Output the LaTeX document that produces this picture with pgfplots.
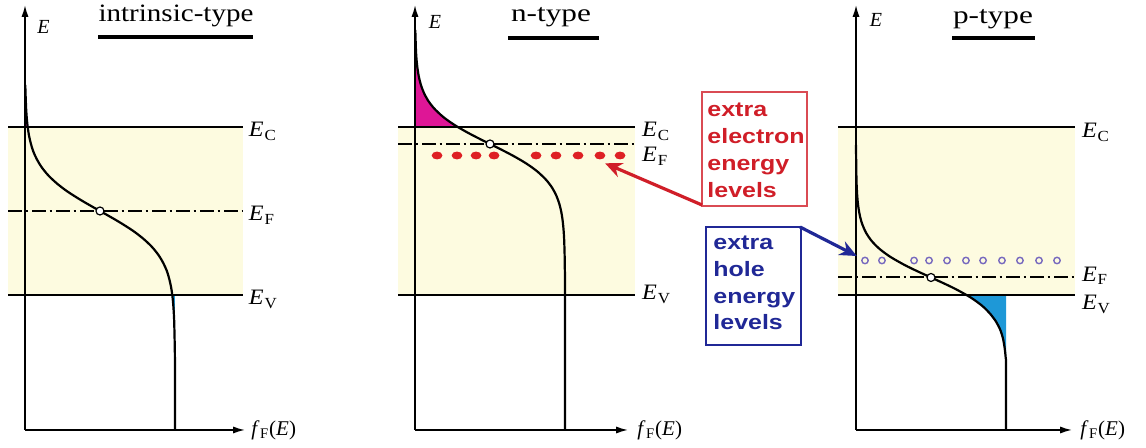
\documentclass[border=0pt]{standalone}
\usepackage{fontspec}
\setmainfont{Liberation Serif}
\newfontfamily\boxfont{Liberation Sans}
\usepackage{pgfplots}
\pgfplotsset{compat=1.18}
\usetikzlibrary{arrows.meta}

\definecolor{gapband}{RGB}{253,251,224}
\definecolor{elecfill}{RGB}{222,22,150}
\definecolor{holefill}{RGB}{30,152,215}
\definecolor{donor}{RGB}{222,32,36}
\definecolor{accept}{RGB}{118,104,190}
\definecolor{redtxt}{RGB}{208,30,40}
\definecolor{bluetxt}{RGB}{32,40,150}

% picture coordinates: 1 unit = 0.5pt, y measured from the top
\newcommand\pxy[2]{({(#1)*0.5pt},{(448-(#2))*0.5pt})}
\newcommand\lv[1]{\textit{E}\kern0.4pt\textsubscript{#1}}
\newcommand\fF{\textit{f}\kern0.2pt\textsubscript{F}(\textit{E})}

\pgfplotsset{
  fdaxis/.style={
    scale only axis, clip=false, axis on top,
    axis lines=left,
    axis line style={line width=0.8pt},
    x axis line style={-{Latex[length=6pt,width=3.6pt]}},
    y axis line style={-{Latex[length=6pt,width=3.6pt]}},
    xtick=\empty, ytick=\empty,
    xmin=0, ymin=0, ymax=425, height=212.5pt,
    anchor=south west,
  },
  level/.style={black, line width=1pt, no marks},
  fermi/.style={black, line width=1pt, no marks,
    dash pattern=on 7pt off 1.8pt on 1.4pt off 1.8pt},
  fdcurve/.style={black, line width=1.1pt, no marks, smooth},
  gap/.style={draw=none, fill=gapband, no marks},
  efill/.style={draw=none, fill=elecfill, no marks, smooth},
  hfill/.style={draw=none, fill=holefill, no marks, smooth},
  crossing/.style={only marks, mark=*, mark size=2pt,
    mark options={fill=white, draw=black, line width=0.6pt}},
}
\tikzset{
  lvlabel/.style={anchor=base west, inner sep=0pt, xscale=1.1,
    font=\fontsize{11}{13}\selectfont},
  elabel/.style={inner sep=0pt, font=\fontsize{10}{12}\selectfont\itshape},
  flabel/.style={anchor=west, inner sep=0pt, font=\fontsize{10.5}{12}\selectfont},
}

\begin{document}
\begin{tikzpicture}
\useasboundingbox (0,0) rectangle (573pt,224pt);

% ---------------- intrinsic ----------------
\begin{axis}[fdaxis, at={(12.5pt,9pt)}, xmax=1.467, width=110pt]
  \addplot[gap] coordinates {(-0.113,135) (1.453,135) (1.453,303) (-0.113,303)};
  \addplot[efill] coordinates {(0.004,335) (0.008,320) (0.013,310) (0.018,303)}
    -- (axis cs:0,303) -- (axis cs:0,335) -- cycle;
  \addplot[hfill] coordinates {(0.982,135) (0.987,128) (0.991,120) (0.9945,110) (0.997,95)}
    -- (axis cs:1,95) -- (axis cs:1,135) -- cycle;
  \addplot[level] coordinates {(-0.113,303) (1.453,303)};
  \addplot[level] coordinates {(-0.113,135) (1.453,135)};
  \addplot[fermi] coordinates {(-0.113,219) (1.453,219)};
  \addplot[fdcurve] coordinates {
    (0.002,345) (0.004,335) (0.008,320) (0.013,310) (0.018,303)
    (0.026,295) (0.038,287) (0.054,279) (0.078,271) (0.110,263)
    (0.153,255) (0.209,247) (0.278,239) (0.361,231) (0.429,225)
    (0.500,219) (0.571,213) (0.639,207) (0.722,199) (0.791,191)
    (0.847,183) (0.890,175) (0.922,167) (0.946,159) (0.962,151)
    (0.974,143) (0.982,135) (0.987,128) (0.991,120) (0.9945,110)
    (0.997,95) (0.999,80) (1.000,60) (1.000,0)};
  \addplot[crossing] coordinates {(0.5,219)};
  \node[lvlabel, xshift=2.5pt, yshift=-5pt] at (axis cs:1.453,303) {\lv{C}};
  \node[lvlabel, xshift=2.5pt, yshift=-5pt] at (axis cs:1.453,219) {\lv{F}};
  \node[lvlabel, xshift=2.5pt, yshift=-5pt] at (axis cs:1.453,135) {\lv{V}};
  \node[elabel] at (axis cs:0.123,403) {E};
  \node[flabel, xshift=3pt] at (axis cs:1.467,0) {\fF};
\end{axis}

% ---------------- n-type ----------------
\begin{axis}[fdaxis, at={(207.5pt,9pt)}, xmax=1.42, width=106.5pt]
  \addplot[gap] coordinates {(-0.113,135) (1.467,135) (1.467,303) (-0.113,303)};
  \addplot[efill] coordinates {(0.0105,370) (0.0162,362) (0.0247,354) (0.0376,346)
    (0.0568,338) (0.0848,330) (0.125,322) (0.1805,314) (0.2334,308) (0.2851,303)}
    -- (axis cs:0,303) -- (axis cs:0,370) -- cycle;
  \addplot[level] coordinates {(-0.113,303) (1.467,303)};
  \addplot[level] coordinates {(-0.113,135) (1.467,135)};
  \addplot[fermi] coordinates {(-0.113,286) (1.467,286)};
  \addplot[fdcurve] coordinates {
    (0.002,400) (0.0045,388) (0.0069,378) (0.0105,370) (0.0162,362)
    (0.0247,354) (0.0376,346) (0.0568,338) (0.0848,330) (0.125,322)
    (0.1805,314) (0.2334,308) (0.2851,303) (0.3556,297) (0.4329,291)
    (0.500,286) (0.5671,281) (0.6444,275) (0.7149,269) (0.7666,264)
    (0.8195,258) (0.875,250) (0.9152,242) (0.9432,234) (0.9624,226)
    (0.9753,218) (0.9838,210) (0.9905,200) (0.9945,190) (0.9975,175)
    (0.999,160) (1.000,140) (1.000,0)};
  \addplot[only marks, mark=*, color=donor, mark size=1.75pt,
    mark options={xscale=1.4}] coordinates {
    (0.147,274.5) (0.280,274.5) (0.407,274.5) (0.527,274.5) (0.807,274.5)
    (0.940,274.5) (1.087,274.5) (1.233,274.5) (1.367,274.5)};
  \addplot[crossing] coordinates {(0.5,286)};
  \coordinate (redtip) at (axis cs:1.267,266.7);
  \node[lvlabel, xshift=3pt, yshift=-5pt] at (axis cs:1.467,303) {\lv{C}};
  \node[lvlabel, xshift=3pt, yshift=-9pt] at (axis cs:1.467,286) {\lv{F}};
  \node[lvlabel, xshift=3pt, yshift=-2.5pt] at (axis cs:1.467,135) {\lv{V}};
  \node[elabel] at (axis cs:0.133,408) {E};
  \node[flabel, xshift=4.5pt] at (axis cs:1.42,0) {\fF};
\end{axis}

% ---------------- p-type ----------------
\begin{axis}[fdaxis, at={(428pt,9pt)}, xmax=1.44, width=108pt]
  \addplot[gap] coordinates {(-0.12,135) (1.46,135) (1.46,303) (-0.12,303)};
  \addplot[hfill] coordinates {(0.737,135) (0.7696,132) (0.8424,124) (0.8954,116)
    (0.935,108) (0.962,100) (0.979,92) (0.991,82) (0.998,72) (1.000,64)}
    -- (axis cs:1,135) -- cycle;
  \addplot[level] coordinates {(-0.12,303) (1.46,303)};
  \addplot[level] coordinates {(-0.12,135) (1.46,135)};
  \addplot[fermi] coordinates {(-0.12,152.5) (1.46,152.5)};
  \addplot[fdcurve] coordinates {
    (0.000,285) (0.001,270) (0.0018,260) (0.0043,245) (0.0087,233)
    (0.0156,223) (0.0277,213) (0.0437,205) (0.068,197) (0.1046,189)
    (0.1576,181) (0.2304,173) (0.324,165) (0.4055,159) (0.500,152.5)
    (0.5945,146) (0.676,140) (0.7696,132) (0.8424,124) (0.8954,116)
    (0.935,108) (0.962,100) (0.979,92) (0.991,82) (0.998,72)
    (1.000,64) (1.000,0)};
  \addplot[only marks, mark=o, color=accept, mark size=1.6pt,
    mark options={line width=0.7pt}] coordinates {
    (0.060,169.5) (0.173,169.5) (0.387,169.5) (0.487,169.5) (0.607,169.5)
    (0.733,169.5) (0.847,169.5) (0.973,169.5) (1.093,169.5) (1.220,169.5)
    (1.340,169.5)};
  \addplot[crossing] coordinates {(0.5,152.5)};
  \coordinate (bluetip) at (axis cs:0.005,174);
  \node[lvlabel, xshift=3pt, yshift=-5.5pt] at (axis cs:1.46,303) {\lv{C}};
  \node[lvlabel, xshift=3pt, yshift=-2pt] at (axis cs:1.46,152.5) {\lv{F}};
  \node[lvlabel, xshift=3pt, yshift=-7.5pt] at (axis cs:1.46,135) {\lv{V}};
  \node[elabel] at (axis cs:0.133,410) {E};
  \node[flabel, xshift=4pt] at (axis cs:1.44,0) {\fF};
\end{axis}

% ---------------- titles ----------------
\begin{scope}[every node/.style={anchor=base, inner sep=0pt, xscale=1.25,
    font=\fontsize{12.5}{14}\selectfont}]
  \node[xscale=0.93] at \pxy{176}{22} {intrinsic-type};
  \node at \pxy{551}{22} {n-type};
  \node at \pxy{993}{24} {p-type};
\end{scope}
\draw[line width=1.8pt] \pxy{98}{37} -- \pxy{253}{37};
\draw[line width=1.8pt] \pxy{508}{38} -- \pxy{599}{38};
\draw[line width=1.8pt] \pxy{952}{38} -- \pxy{1035}{38};

% ---------------- dopant level call-outs ----------------
\draw[redtxt!80!white, line width=0.6pt] \pxy{702}{92} rectangle \pxy{807}{206};
\node[anchor=base west, inner sep=0pt, xscale=1.2, text=redtxt,
  font=\boxfont\bfseries\fontsize{10.4}{13.5}\selectfont] at \pxy{707}{116.5}
  {\begin{tabular}[t]{@{}l@{}}extra\\electron\\energy\\levels\end{tabular}};
\draw[bluetxt, line width=0.6pt] \pxy{706}{227} rectangle \pxy{801}{345};
\node[anchor=base west, inner sep=0pt, xscale=1.2, text=bluetxt,
  font=\boxfont\bfseries\fontsize{10.4}{13.3}\selectfont] at \pxy{713}{250}
  {\begin{tabular}[t]{@{}l@{}}extra\\hole\\energy\\levels\end{tabular}};
\draw[redtxt, line width=1.6pt, -{Stealth[length=8.5pt,width=7.5pt]}]
  \pxy{702}{205} -- (redtip);
\draw[bluetxt, line width=1.6pt, -{Stealth[length=8.5pt,width=7.5pt]}]
  \pxy{800}{227} -- (bluetip);
\end{tikzpicture}
\end{document}
